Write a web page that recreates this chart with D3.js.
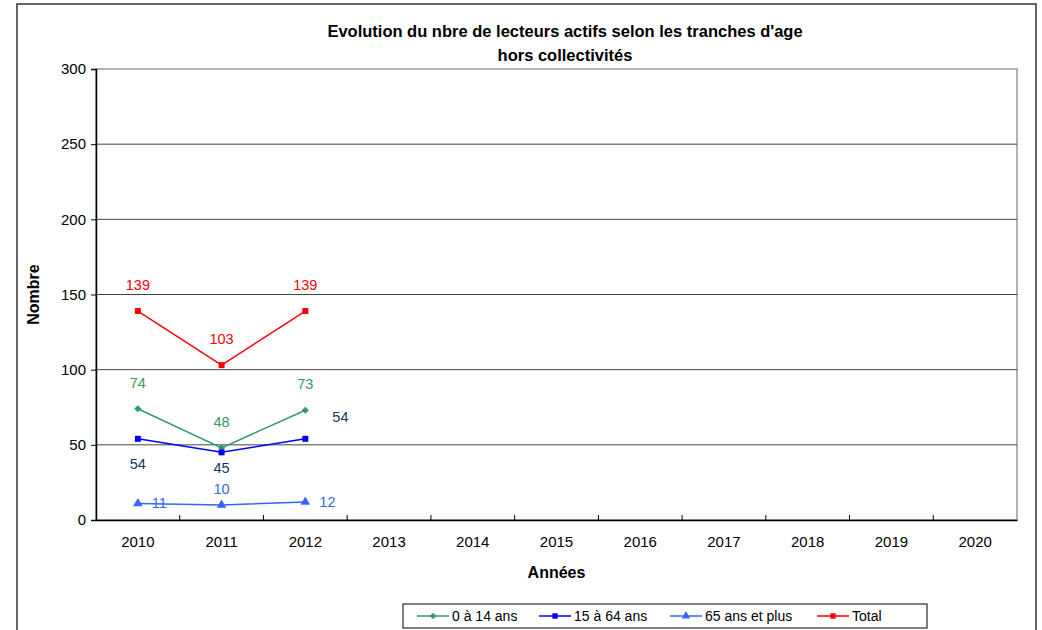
<!DOCTYPE html>
<html>
<head>
<meta charset="utf-8">
<script src="https://cdn.jsdelivr.net/npm/d3@7"></script>
<style>
  body { margin: 0; background: #fff; }
  svg { display: block; font-family: "Liberation Sans", Arial, sans-serif; }
</style>
</head>
<body>
<div id="chart"></div>
<script>
// data
const years = ["2010", "2011", "2012", "2013", "2014", "2015", "2016", "2017", "2018", "2019", "2020"];
const ages0to14 = [74, 48, 73];
const ages15to64 = [54, 45, 54];
const ages65plus = [11, 10, 12];
const total = [139, 103, 139];
const yTicks = [0, 50, 100, 150, 200, 250, 300];

const series = [
  { name: "0 à 14 ans", values: ages0to14, color: "#339966", labelColor: "#339966", marker: d3.symbolSquare, size: 26, rotate: 45,
    place: ["above", "above", "above"] },
  { name: "15 à 64 ans", values: ages15to64, color: "#0000ff", labelColor: "#17375e", marker: d3.symbolSquare, size: 36, rotate: 0,
    place: ["below", "belowNear", "farright"] },
  { name: "65 ans et plus", values: ages65plus, color: "#3366ff", labelColor: "#3366ff", marker: d3.symbolTriangle, size: 40, rotate: 0,
    place: ["right", "aboveNear", "right"] },
  { name: "Total", values: total, color: "#ff0000", labelColor: "#ff0000", marker: d3.symbolSquare, size: 36, rotate: 0,
    place: ["above", "above", "above"] }
];

const width = 1042, height = 630;
const margin = { top: 69, right: 25, bottom: 110, left: 96 };
const innerW = width - margin.left - margin.right;
const innerH = height - margin.top - margin.bottom;

const svg = d3.select("#chart").append("svg")
  .attr("width", width)
  .attr("height", height);

// outer chart frame
svg.append("rect")
  .attr("x", 17).attr("y", 4)
  .attr("width", 1019).attr("height", 640)
  .attr("fill", "none")
  .attr("stroke", "#333")
  .attr("stroke-width", 1.5);

svg.append("text")
  .attr("x", 565).attr("y", 37)
  .attr("text-anchor", "middle")
  .attr("font-size", 16.5).attr("font-weight", "bold")
  .text("Evolution du nbre de lecteurs actifs selon les tranches d'age");
svg.append("text")
  .attr("x", 565).attr("y", 61)
  .attr("text-anchor", "middle")
  .attr("font-size", 16.5).attr("font-weight", "bold")
  .text("hors collectivités");

const g = svg.append("g").attr("transform", `translate(${margin.left},${margin.top})`);

const x = d3.scaleBand().domain(years).range([0, innerW]);
const y = d3.scaleLinear().domain([0, 300]).range([innerH, 0]);

// plot border (grey)
g.append("rect")
  .attr("width", innerW).attr("height", innerH)
  .attr("fill", "none")
  .attr("stroke", "#999")
  .attr("stroke-width", 1.5);

// gridlines
g.selectAll(".grid")
  .data(yTicks.filter(d => d > 0 && d < 300))
  .join("line")
  .attr("x1", 0).attr("x2", innerW)
  .attr("y1", d => y(d)).attr("y2", d => y(d))
  .attr("stroke", "#444").attr("stroke-width", 1);

// y axis
const yAxis = g.append("g")
  .call(d3.axisLeft(y).tickValues(yTicks).tickSize(5).tickPadding(5));
yAxis.select(".domain").attr("stroke", "#000").attr("stroke-width", 1.5);
yAxis.selectAll(".tick line").attr("stroke", "#000");
yAxis.selectAll("text").attr("font-size", 15).attr("fill", "#000")
  .attr("font-family", "Liberation Sans, Arial, sans-serif");

// x axis
const xAxis = g.append("g")
  .attr("transform", `translate(0,${innerH})`)
  .call(d3.axisBottom(x).tickSize(0).tickPadding(16));
xAxis.select(".domain").attr("stroke", "#000").attr("stroke-width", 1.5);
xAxis.selectAll("text").attr("font-size", 15).attr("fill", "#000")
  .attr("font-family", "Liberation Sans, Arial, sans-serif");
// tick marks between categories, pointing into the plot
g.selectAll(".xtick")
  .data(years.slice(1))
  .join("line")
  .attr("x1", d => x(d)).attr("x2", d => x(d))
  .attr("y1", innerH).attr("y2", innerH - 5)
  .attr("stroke", "#000");

svg.append("text")
  .attr("x", margin.left + innerW / 2).attr("y", 578)
  .attr("text-anchor", "middle")
  .attr("font-size", 16).attr("font-weight", "bold")
  .text("Années");
svg.append("text")
  .attr("transform", `translate(39,${margin.top + innerH / 2}) rotate(-90)`)
  .attr("text-anchor", "middle")
  .attr("font-size", 16).attr("font-weight", "bold")
  .text("Nombre");

const line = d3.line()
  .x((d, i) => x(years[i]) + x.bandwidth() / 2)
  .y(d => y(d));

const offsets = {
  above: [0, -21, "middle"],
  aboveNear: [0, -11, "middle"],
  below: [0, 30, "middle"],
  belowNear: [0, 21, "middle"],
  right: [14, 5, "start"],
  farright: [27, -17, "start"]
};

series.forEach(s => {
  const sg = g.append("g");
  sg.append("path")
    .datum(s.values)
    .attr("fill", "none")
    .attr("stroke", s.color)
    .attr("stroke-width", 1.5)
    .attr("d", line);
  sg.selectAll("path.m")
    .data(s.values)
    .join("path")
    .attr("class", "m")
    .attr("transform", (d, i) => `translate(${x(years[i]) + x.bandwidth() / 2},${y(d)}) rotate(${s.rotate})`)
    .attr("d", d3.symbol().type(s.marker).size(s.size))
    .attr("fill", s.color);
  sg.selectAll("text")
    .data(s.values)
    .join("text")
    .attr("x", (d, i) => x(years[i]) + x.bandwidth() / 2 + offsets[s.place[i]][0])
    .attr("y", (d, i) => y(d) + offsets[s.place[i]][1])
    .attr("text-anchor", (d, i) => offsets[s.place[i]][2])
    .attr("font-size", 14.5)
    .attr("fill", s.labelColor)
    .text(d => d);
});

// legend
const legend = svg.append("g");
legend.append("rect")
  .attr("x", 403).attr("y", 604)
  .attr("width", 524).attr("height", 24)
  .attr("fill", "#fff")
  .attr("stroke", "#000")
  .attr("stroke-width", 1);
const legendX = [417, 539, 670, 817];
series.forEach((s, i) => {
  const lg = legend.append("g").attr("transform", `translate(${legendX[i]},616)`);
  lg.append("line")
    .attr("x1", 0).attr("x2", 32)
    .attr("stroke", s.color).attr("stroke-width", 1.5);
  lg.append("path")
    .attr("transform", `translate(16,0) rotate(${s.rotate})`)
    .attr("d", d3.symbol().type(s.marker).size(s.size * 0.8))
    .attr("fill", s.color);
  lg.append("text")
    .attr("x", 35).attr("y", 5)
    .attr("font-size", 14)
    .text(s.name);
});
</script>
</body>
</html>
